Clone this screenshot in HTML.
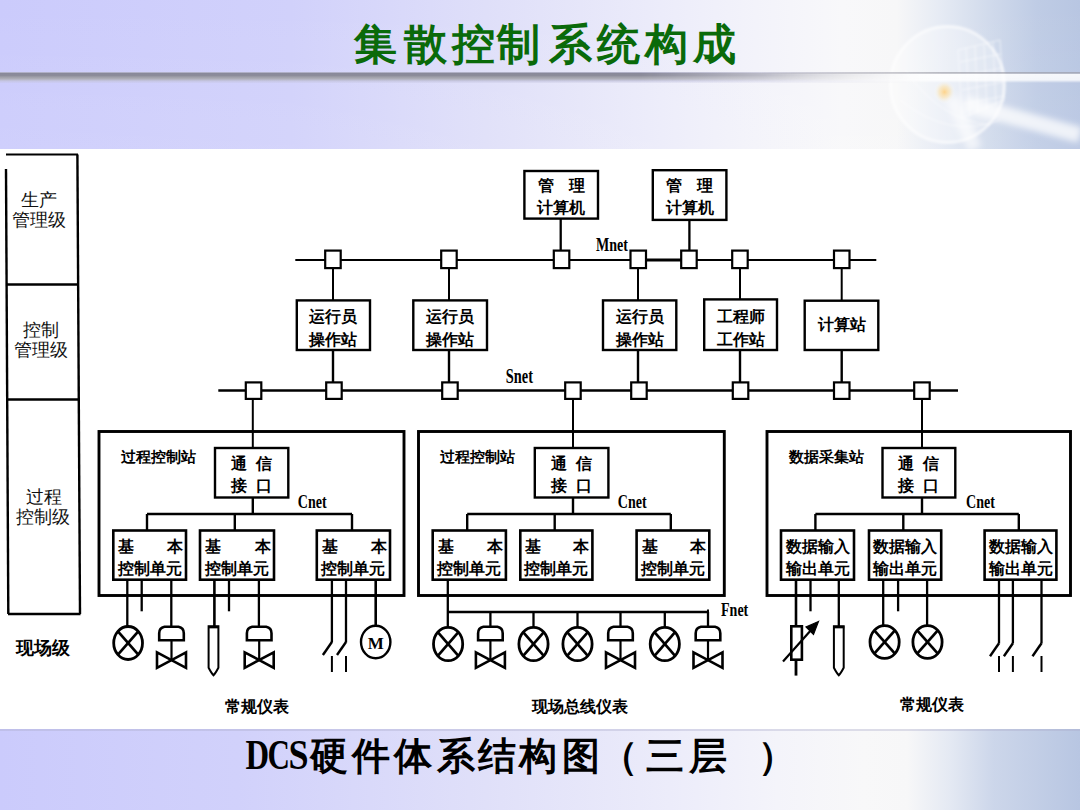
<!DOCTYPE html>
<html><head><meta charset="utf-8"><style>
html,body{margin:0;padding:0;}
body{width:1080px;height:810px;position:relative;overflow:hidden;background:#fff;font-family:"Liberation Sans",sans-serif;}
.band{position:absolute;left:0;width:1080px;}
#top{top:0;height:149px;background:linear-gradient(90deg,#cbcbfc 0%,#d1d1fb 27%,#dfdff9 45%,#ebebfa 60%,#f3f3fa 70%,#f8f8fa 78%,#f7f7f8 83%,#e6ebf4 87%,#cfd9eb 92%,#bfcce5 96%,#b8c6e2 100%);}
#topv{top:0;height:149px;background:linear-gradient(180deg,rgba(255,255,255,0) 0%,rgba(255,255,255,.08) 100%);}
#shadowL{top:72px;height:12px;background:linear-gradient(180deg,rgba(218,218,244,.9) 0px,#88889a 1px,#8c8c9a 3.5px,#9e9ea8 5px,#b0b0ba 7px,rgba(196,196,222,.8) 9px,rgba(205,205,245,0) 11.5px);-webkit-mask-image:linear-gradient(90deg,#000 0,#000 640px,rgba(0,0,0,.55) 760px,rgba(0,0,0,.25) 860px,transparent 920px);}
#shadowR{top:72px;height:11px;left:0;background:linear-gradient(180deg,rgba(150,150,160,.6) 0px,rgba(150,150,160,.6) 1.2px,rgba(255,255,255,.85) 2.5px,rgba(255,255,255,.8) 8px,rgba(255,255,255,0) 11px);-webkit-mask-image:linear-gradient(90deg,transparent 0,transparent 760px,rgba(0,0,0,.6) 860px,#000 940px);}
#bot{top:729px;height:81px;background:linear-gradient(90deg,#cbcbfc 0%,#d1d1fb 22%,#e0e0f9 45%,#ececfa 62%,#f4f4fa 72%,#f8f8f9 80%,#f7f7f8 84%,#e4e9f3 88%,#ccd6ea 92%,#b8c6e2 100%);}
#botl{top:729px;height:2px;background:rgba(170,170,200,.35);}
svg{position:absolute;left:0;top:0;} svg text{stroke:none;}
</style></head><body>
<div class="band" id="top"></div>
<div class="band" id="topv"></div>
<svg width="1080" height="149" style="position:absolute;left:0;top:0">
<defs><radialGradient id="glow"><stop offset="0" stop-color="#ffd080" stop-opacity=".9"/><stop offset=".5" stop-color="#ffe0a0" stop-opacity=".5"/><stop offset="1" stop-color="#fff" stop-opacity="0"/></radialGradient>
<filter id="bl" x="-50%" y="-50%" width="200%" height="200%"><feGaussianBlur stdDeviation="3"/></filter><filter id="bl1" x="-20%" y="-20%" width="140%" height="140%"><feGaussianBlur stdDeviation="0.8"/></filter></defs>
<ellipse cx="947.5" cy="84.5" rx="57" ry="58" fill="rgba(255,255,255,.32)" stroke="rgba(255,255,255,.6)" stroke-width="3" filter="url(#bl1)"/>
<g stroke="rgba(255,255,255,.55)" stroke-width="1" fill="none" filter="url(#bl1)">
<path d="M958,50 L1000,40 L1004,100 L962,118 Z"/><path d="M966,48 L970,116 M975,46 L978,113 M984,44 L987,110 M993,42 L996,106"/>
<path d="M960,62 L1001,54 M961,76 L1002,68 M962,90 L1003,82 M963,104 L1004,96"/>
<path d="M905,70 Q940,120 990,125 M900,100 Q950,140 1000,120"/>
</g>
<ellipse cx="944.5" cy="92" rx="11" ry="12" fill="url(#glow)"/>
<path d="M965,104 L1080,135" stroke="rgba(255,255,255,.75)" stroke-width="16" filter="url(#bl)"/>
<path d="M952,98 L975,149" stroke="rgba(255,255,255,.6)" stroke-width="14" filter="url(#bl)"/>
</svg>
<div class="band" id="shadowL"></div>
<div class="band" id="shadowR"></div>

<div class="band" id="bot"></div><div class="band" id="botl"></div>

<svg width="1080" height="810" viewBox="0 0 1080 810" stroke="#000" fill="#000">
<polyline points="6,169 8.3,614" stroke-width="2.4" fill="none"/>
<polyline points="77.4,154.5 80,614" stroke-width="2.4" fill="none"/>
<line x1="6" y1="154.5" x2="78" y2="154.5" stroke-width="2"/>
<line x1="6.5" y1="284.5" x2="78.5" y2="284.5" stroke-width="2.6"/>
<line x1="7" y1="399.5" x2="79.5" y2="399.5" stroke-width="2.6"/>
<line x1="8" y1="614" x2="80.5" y2="614" stroke-width="2.6"/>
<text x="39" y="206" font-family="Liberation Sans" font-weight="normal" font-size="17.5" text-anchor="middle" fill="#111">生产</text><text x="39" y="225.5" font-family="Liberation Sans" font-weight="normal" font-size="17.5" text-anchor="middle" fill="#111">管理级</text>
<text x="41" y="336" font-family="Liberation Sans" font-weight="normal" font-size="17.5" text-anchor="middle" fill="#111">控制</text><text x="41" y="356" font-family="Liberation Sans" font-weight="normal" font-size="17.5" text-anchor="middle" fill="#111">管理级</text>
<text x="44" y="503" font-family="Liberation Sans" font-weight="normal" font-size="17.5" text-anchor="middle" fill="#111">过程</text><text x="43" y="522.5" font-family="Liberation Sans" font-weight="normal" font-size="17.5" text-anchor="middle" fill="#111">控制级</text>
<text x="43" y="654" font-family="Liberation Sans" font-weight="bold" font-size="17.5" text-anchor="middle">现场级</text>
<rect x="524.4" y="171" width="73.6" height="47.6" stroke-width="2.4" fill="#fff"/>
<text stroke="none" x="545.7" y="190.5" font-size="16" font-weight="bold" font-family="Liberation Serif" text-anchor="middle" >管</text>
<text stroke="none" x="576.7" y="190.5" font-size="16" font-weight="bold" font-family="Liberation Serif" text-anchor="middle" >理</text>
<text stroke="none" x="561.2" y="212.5" font-size="16" font-weight="bold" font-family="Liberation Serif" text-anchor="middle" >计算机</text>
<rect x="652.8" y="170.2" width="73.6" height="49.7" stroke-width="2.4" fill="#fff"/>
<text stroke="none" x="674.0999999999999" y="190.5" font-size="16" font-weight="bold" font-family="Liberation Serif" text-anchor="middle" >管</text>
<text stroke="none" x="705.0999999999999" y="190.5" font-size="16" font-weight="bold" font-family="Liberation Serif" text-anchor="middle" >理</text>
<text stroke="none" x="689.5999999999999" y="212.5" font-size="16" font-weight="bold" font-family="Liberation Serif" text-anchor="middle" >计算机</text>
<line x1="560.7" y1="218.6" x2="560.7" y2="251" stroke-width="2.3"/>
<line x1="689.4" y1="220" x2="689.4" y2="251" stroke-width="2.3"/>
<line x1="295.3" y1="260" x2="876.3" y2="260" stroke-width="2"/>
<line x1="646" y1="260" x2="681" y2="260" stroke-width="3"/>
<rect x="325.2" y="250.6" width="15.5" height="17.5" stroke-width="2.2" fill="#fff"/>
<rect x="441.2" y="250.6" width="15.5" height="17.5" stroke-width="2.2" fill="#fff"/>
<rect x="553.8" y="250.6" width="15.5" height="17.5" stroke-width="2.2" fill="#fff"/>
<rect x="630.5" y="250.6" width="15.5" height="17.5" stroke-width="2.2" fill="#fff"/>
<rect x="681.2" y="250.6" width="15.5" height="17.5" stroke-width="2.2" fill="#fff"/>
<rect x="732.2" y="250.6" width="15.5" height="17.5" stroke-width="2.2" fill="#fff"/>
<rect x="834.0" y="250.6" width="15.5" height="17.5" stroke-width="2.2" fill="#fff"/>
<text stroke="none" x="0" y="0" font-size="19.5" font-weight="bold" font-family="Liberation Serif" transform="translate(596 250.75) scale(0.72 1)">Mnet</text>
<line x1="333" y1="268" x2="333" y2="300.5" stroke-width="2"/>
<line x1="333" y1="350" x2="333" y2="382.6" stroke-width="2.4"/>
<line x1="449" y1="268" x2="449" y2="300.5" stroke-width="2"/>
<line x1="449" y1="350" x2="449" y2="382.6" stroke-width="2.4"/>
<line x1="638" y1="268" x2="638" y2="300.5" stroke-width="2"/>
<line x1="638" y1="350" x2="638" y2="382.6" stroke-width="2.4"/>
<line x1="740" y1="268" x2="740" y2="300.5" stroke-width="2"/>
<line x1="740" y1="350" x2="740" y2="382.6" stroke-width="2.4"/>
<line x1="841.7" y1="268" x2="841.7" y2="300.5" stroke-width="2"/>
<line x1="841.7" y1="350" x2="841.7" y2="382.6" stroke-width="2.4"/>
<rect x="296.8" y="300.4" width="73.2" height="49.6" stroke-width="2.4" fill="#fff"/>
<text stroke="none" x="333.4" y="321.5" font-size="16" font-weight="bold" font-family="Liberation Serif" text-anchor="middle" >运行员</text>
<text stroke="none" x="333.4" y="344.5" font-size="16" font-weight="bold" font-family="Liberation Serif" text-anchor="middle" >操作站</text>
<rect x="413.3" y="300.4" width="73.7" height="49.6" stroke-width="2.4" fill="#fff"/>
<text stroke="none" x="450.15" y="321.5" font-size="16" font-weight="bold" font-family="Liberation Serif" text-anchor="middle" >运行员</text>
<text stroke="none" x="450.15" y="344.5" font-size="16" font-weight="bold" font-family="Liberation Serif" text-anchor="middle" >操作站</text>
<rect x="603" y="300.4" width="73.3" height="49.6" stroke-width="2.4" fill="#fff"/>
<text stroke="none" x="639.65" y="321.5" font-size="16" font-weight="bold" font-family="Liberation Serif" text-anchor="middle" >运行员</text>
<text stroke="none" x="639.65" y="344.5" font-size="16" font-weight="bold" font-family="Liberation Serif" text-anchor="middle" >操作站</text>
<rect x="704.2" y="299.4" width="72.8" height="50.6" stroke-width="2.4" fill="#fff"/>
<text stroke="none" x="740.6" y="321.5" font-size="16" font-weight="bold" font-family="Liberation Serif" text-anchor="middle" >工程师</text>
<text stroke="none" x="740.6" y="344.5" font-size="16" font-weight="bold" font-family="Liberation Serif" text-anchor="middle" >工作站</text>
<rect x="804.7" y="300.7" width="73.6" height="49.3" stroke-width="2.4" fill="#fff"/>
<text stroke="none" x="841.5" y="329.5" font-size="16" font-weight="bold" font-family="Liberation Serif" text-anchor="middle" >计算站</text>
<line x1="218.3" y1="390.5" x2="958" y2="390.5" stroke-width="2.6"/>
<rect x="245.8" y="382.4" width="15.5" height="16.5" stroke-width="2.2" fill="#fff"/>
<rect x="326.2" y="382.4" width="15.5" height="16.5" stroke-width="2.2" fill="#fff"/>
<rect x="442.2" y="382.4" width="15.5" height="16.5" stroke-width="2.2" fill="#fff"/>
<rect x="565.2" y="382.4" width="15.5" height="16.5" stroke-width="2.2" fill="#fff"/>
<rect x="631.2" y="382.4" width="15.5" height="16.5" stroke-width="2.2" fill="#fff"/>
<rect x="732.8" y="382.4" width="15.5" height="16.5" stroke-width="2.2" fill="#fff"/>
<rect x="834.0" y="382.4" width="15.5" height="16.5" stroke-width="2.2" fill="#fff"/>
<rect x="914.2" y="382.4" width="15.5" height="16.5" stroke-width="2.2" fill="#fff"/>
<text stroke="none" x="0" y="0" font-size="20" font-weight="bold" font-family="Liberation Serif" transform="translate(505.8 382.8) scale(0.72 1)">Snet</text>
<rect x="99" y="431.5" width="305.0" height="164.0" stroke-width="2.9" fill="#fff"/>
<line x1="252.8" y1="399" x2="252.8" y2="448" stroke-width="2"/>
<text stroke="none" x="120.5" y="461.5" font-size="15" font-weight="bold" font-family="Liberation Serif" text-anchor="start" >过程控制站</text>
<rect x="215" y="448" width="73.3" height="49.5" stroke-width="2.4" fill="#fff"/>
<text stroke="none" x="239.15" y="469" font-size="16" font-weight="bold" font-family="Liberation Serif" text-anchor="middle" >通</text>
<text stroke="none" x="264.15" y="469" font-size="16" font-weight="bold" font-family="Liberation Serif" text-anchor="middle" >信</text>
<text stroke="none" x="239.15" y="491" font-size="16" font-weight="bold" font-family="Liberation Serif" text-anchor="middle" >接</text>
<text stroke="none" x="264.15" y="491" font-size="16" font-weight="bold" font-family="Liberation Serif" text-anchor="middle" >口</text>
<line x1="252.8" y1="497.5" x2="252.8" y2="514" stroke-width="2.4"/>
<line x1="147" y1="514" x2="352" y2="514" stroke-width="2.6"/>
<line x1="147" y1="514" x2="147" y2="530.5" stroke-width="2.4"/>
<line x1="234.8" y1="514" x2="234.8" y2="530.5" stroke-width="2.4"/>
<line x1="352" y1="514" x2="352" y2="530.5" stroke-width="2.4"/>
<text stroke="none" x="0" y="0" font-size="19.5" font-weight="bold" font-family="Liberation Serif" transform="translate(297.8 507.6) scale(0.72 1)">Cnet</text>
<rect x="113.3" y="530.5" width="72.7" height="49.2" stroke-width="2.6" fill="#fff"/>
<text stroke="none" x="118.3" y="551.5" font-size="16" font-weight="bold" font-family="Liberation Serif" text-anchor="start" >基</text>
<text stroke="none" x="183" y="551.5" font-size="16" font-weight="bold" font-family="Liberation Serif" text-anchor="end" >本</text>
<text stroke="none" x="149.65" y="573.5" font-size="15.5" font-weight="bold" font-family="Liberation Serif" text-anchor="middle" >控制单元</text>
<rect x="200" y="530.5" width="74.0" height="49.2" stroke-width="2.6" fill="#fff"/>
<text stroke="none" x="205" y="551.5" font-size="16" font-weight="bold" font-family="Liberation Serif" text-anchor="start" >基</text>
<text stroke="none" x="271" y="551.5" font-size="16" font-weight="bold" font-family="Liberation Serif" text-anchor="end" >本</text>
<text stroke="none" x="237.0" y="573.5" font-size="15.5" font-weight="bold" font-family="Liberation Serif" text-anchor="middle" >控制单元</text>
<rect x="316.8" y="530.5" width="73.2" height="49.2" stroke-width="2.6" fill="#fff"/>
<text stroke="none" x="321.8" y="551.5" font-size="16" font-weight="bold" font-family="Liberation Serif" text-anchor="start" >基</text>
<text stroke="none" x="387" y="551.5" font-size="16" font-weight="bold" font-family="Liberation Serif" text-anchor="end" >本</text>
<text stroke="none" x="353.4" y="573.5" font-size="15.5" font-weight="bold" font-family="Liberation Serif" text-anchor="middle" >控制单元</text>
<rect x="418.5" y="431.5" width="305.8" height="164.0" stroke-width="2.9" fill="#fff"/>
<line x1="573" y1="399" x2="573" y2="448" stroke-width="2"/>
<text stroke="none" x="440.0" y="461.5" font-size="15" font-weight="bold" font-family="Liberation Serif" text-anchor="start" >过程控制站</text>
<rect x="534.8" y="448" width="73.6" height="49.5" stroke-width="2.4" fill="#fff"/>
<text stroke="none" x="559.0999999999999" y="469" font-size="16" font-weight="bold" font-family="Liberation Serif" text-anchor="middle" >通</text>
<text stroke="none" x="584.0999999999999" y="469" font-size="16" font-weight="bold" font-family="Liberation Serif" text-anchor="middle" >信</text>
<text stroke="none" x="559.0999999999999" y="491" font-size="16" font-weight="bold" font-family="Liberation Serif" text-anchor="middle" >接</text>
<text stroke="none" x="584.0999999999999" y="491" font-size="16" font-weight="bold" font-family="Liberation Serif" text-anchor="middle" >口</text>
<line x1="573" y1="497.5" x2="573" y2="514" stroke-width="2.4"/>
<line x1="467.2" y1="514" x2="670.8" y2="514" stroke-width="2.6"/>
<line x1="467.2" y1="514" x2="467.2" y2="530.5" stroke-width="2.4"/>
<line x1="554.7" y1="514" x2="554.7" y2="530.5" stroke-width="2.4"/>
<line x1="670.8" y1="514" x2="670.8" y2="530.5" stroke-width="2.4"/>
<text stroke="none" x="0" y="0" font-size="19.5" font-weight="bold" font-family="Liberation Serif" transform="translate(617.8 507.6) scale(0.72 1)">Cnet</text>
<rect x="432.7" y="530.5" width="73.2" height="49.2" stroke-width="2.6" fill="#fff"/>
<text stroke="none" x="437.7" y="551.5" font-size="16" font-weight="bold" font-family="Liberation Serif" text-anchor="start" >基</text>
<text stroke="none" x="502.9" y="551.5" font-size="16" font-weight="bold" font-family="Liberation Serif" text-anchor="end" >本</text>
<text stroke="none" x="469.29999999999995" y="573.5" font-size="15.5" font-weight="bold" font-family="Liberation Serif" text-anchor="middle" >控制单元</text>
<rect x="520.3" y="530.5" width="72.1" height="49.2" stroke-width="2.6" fill="#fff"/>
<text stroke="none" x="525.3" y="551.5" font-size="16" font-weight="bold" font-family="Liberation Serif" text-anchor="start" >基</text>
<text stroke="none" x="589.4" y="551.5" font-size="16" font-weight="bold" font-family="Liberation Serif" text-anchor="end" >本</text>
<text stroke="none" x="556.3499999999999" y="573.5" font-size="15.5" font-weight="bold" font-family="Liberation Serif" text-anchor="middle" >控制单元</text>
<rect x="636.6" y="530.5" width="72.7" height="49.2" stroke-width="2.6" fill="#fff"/>
<text stroke="none" x="641.6" y="551.5" font-size="16" font-weight="bold" font-family="Liberation Serif" text-anchor="start" >基</text>
<text stroke="none" x="706.3" y="551.5" font-size="16" font-weight="bold" font-family="Liberation Serif" text-anchor="end" >本</text>
<text stroke="none" x="672.95" y="573.5" font-size="15.5" font-weight="bold" font-family="Liberation Serif" text-anchor="middle" >控制单元</text>
<rect x="767" y="431.5" width="303.5" height="164.0" stroke-width="2.9" fill="#fff"/>
<line x1="922" y1="399" x2="922" y2="448" stroke-width="2"/>
<text stroke="none" x="788.5" y="461.5" font-size="15" font-weight="bold" font-family="Liberation Serif" text-anchor="start" >数据采集站</text>
<rect x="882.5" y="448" width="72.8" height="49.5" stroke-width="2.4" fill="#fff"/>
<text stroke="none" x="906.4" y="469" font-size="16" font-weight="bold" font-family="Liberation Serif" text-anchor="middle" >通</text>
<text stroke="none" x="931.4" y="469" font-size="16" font-weight="bold" font-family="Liberation Serif" text-anchor="middle" >信</text>
<text stroke="none" x="906.4" y="491" font-size="16" font-weight="bold" font-family="Liberation Serif" text-anchor="middle" >接</text>
<text stroke="none" x="931.4" y="491" font-size="16" font-weight="bold" font-family="Liberation Serif" text-anchor="middle" >口</text>
<line x1="922" y1="497.5" x2="922" y2="514" stroke-width="2.4"/>
<line x1="815.4" y1="514" x2="1018.8" y2="514" stroke-width="2.6"/>
<line x1="815.4" y1="514" x2="815.4" y2="530.5" stroke-width="2.4"/>
<line x1="903.3" y1="514" x2="903.3" y2="530.5" stroke-width="2.4"/>
<line x1="1018.8" y1="514" x2="1018.8" y2="530.5" stroke-width="2.4"/>
<text stroke="none" x="0" y="0" font-size="19.5" font-weight="bold" font-family="Liberation Serif" transform="translate(966 507.6) scale(0.72 1)">Cnet</text>
<rect x="781" y="530.5" width="73.0" height="49.2" stroke-width="2.6" fill="#fff"/>
<text stroke="none" x="817.5" y="551.5" font-size="15.5" font-weight="bold" font-family="Liberation Serif" text-anchor="middle" >数据输入</text>
<text stroke="none" x="817.5" y="573.5" font-size="15.5" font-weight="bold" font-family="Liberation Serif" text-anchor="middle" >输出单元</text>
<rect x="869" y="530.5" width="72.2" height="49.2" stroke-width="2.6" fill="#fff"/>
<text stroke="none" x="905.1" y="551.5" font-size="15.5" font-weight="bold" font-family="Liberation Serif" text-anchor="middle" >数据输入</text>
<text stroke="none" x="905.1" y="573.5" font-size="15.5" font-weight="bold" font-family="Liberation Serif" text-anchor="middle" >输出单元</text>
<rect x="984.6" y="530.5" width="71.8" height="49.2" stroke-width="2.6" fill="#fff"/>
<text stroke="none" x="1020.5" y="551.5" font-size="15.5" font-weight="bold" font-family="Liberation Serif" text-anchor="middle" >数据输入</text>
<text stroke="none" x="1020.5" y="573.5" font-size="15.5" font-weight="bold" font-family="Liberation Serif" text-anchor="middle" >输出单元</text>
<line x1="127.3" y1="579.7" x2="127.3" y2="627" stroke-width="2.3"/>
<ellipse cx="128.1" cy="643" rx="14.4" ry="16.5" stroke-width="2.8" fill="#fff"/>
<line x1="117.91919999999999" y1="631.3345" x2="138.2808" y2="654.6655" stroke-width="2.7"/>
<line x1="117.91919999999999" y1="654.6655" x2="138.2808" y2="631.3345" stroke-width="2.7"/>
<line x1="141.7" y1="579.7" x2="141.7" y2="611.3" stroke-width="2.3"/>
<line x1="171.3" y1="579.7" x2="171.3" y2="627" stroke-width="2.3"/>
<path d="M159.2,640.3 L159.2,633.3 Q159.2,627.8 164.5,626.8 L178.5,626.8 Q183.8,627.8 183.8,633.3 L183.8,640.3 Z" stroke-width="2.6" fill="#fff"/>
<line x1="171.5" y1="640.3" x2="171.5" y2="660.3" stroke-width="2.2"/>
<path d="M157.0,652.3 L186.0,667.8 L186.0,652.3 L157.0,667.8 Z" stroke-width="2.6" fill="none" stroke-linejoin="miter"/>
<line x1="214.4" y1="579.7" x2="214.4" y2="627" stroke-width="2.6"/>
<path d="M208.6,626.3 L218.4,626.3 L218.4,667.8 Q215.5,673.3 213.5,675.3 Q211.5,673.3 208.6,667.8 Z" stroke-width="2" fill="#fff"/>
<line x1="208.0" y1="627.0999999999999" x2="219.0" y2="627.0999999999999" stroke-width="2.5"/>
<line x1="229" y1="579.7" x2="229" y2="611.3" stroke-width="2.3"/>
<line x1="258.9" y1="579.7" x2="258.9" y2="627" stroke-width="2.3"/>
<path d="M246.89999999999998,640.3 L246.89999999999998,633.3 Q246.89999999999998,627.8 252.2,626.8 L266.2,626.8 Q271.5,627.8 271.5,633.3 L271.5,640.3 Z" stroke-width="2.6" fill="#fff"/>
<line x1="259.2" y1="640.3" x2="259.2" y2="660.3" stroke-width="2.2"/>
<path d="M244.7,652.3 L273.7,667.8 L273.7,652.3 L244.7,667.8 Z" stroke-width="2.6" fill="none" stroke-linejoin="miter"/>
<line x1="331.9" y1="579.7" x2="331.9" y2="642.5" stroke-width="2.3"/>
<line x1="331.9" y1="642" x2="322.9" y2="655" stroke-width="2.4"/>
<line x1="331.9" y1="656" x2="331.9" y2="672" stroke-width="2"/>
<line x1="346" y1="579.7" x2="346" y2="642.5" stroke-width="2.3"/>
<line x1="346" y1="642" x2="337" y2="655" stroke-width="2.4"/>
<line x1="346" y1="656" x2="346" y2="672" stroke-width="2"/>
<line x1="375.7" y1="579.7" x2="375.7" y2="626" stroke-width="2.6"/>
<ellipse cx="375.7" cy="642" rx="14.7" ry="16.3" stroke-width="2.4" fill="#fff"/>
<text stroke="none" x="375.7" y="648.5" font-size="17" font-weight="bold" font-family="Liberation Serif" text-anchor="middle" >M</text>
<line x1="447.8" y1="579.7" x2="447.8" y2="627" stroke-width="2.3"/>
<line x1="447.8" y1="612" x2="708" y2="612" stroke-width="2.4"/>
<line x1="708" y1="609.5" x2="708" y2="612" stroke-width="2"/>
<line x1="490.4" y1="612" x2="490.4" y2="627" stroke-width="2.3"/>
<line x1="533.5" y1="612" x2="533.5" y2="627" stroke-width="2.3"/>
<line x1="577.5" y1="612" x2="577.5" y2="627" stroke-width="2.3"/>
<line x1="620.5" y1="612" x2="620.5" y2="627" stroke-width="2.3"/>
<line x1="664.8" y1="612" x2="664.8" y2="627" stroke-width="2.3"/>
<line x1="708" y1="612" x2="708" y2="627" stroke-width="2.3"/>
<ellipse cx="448.1" cy="644" rx="14.6" ry="16.7" stroke-width="2.8" fill="#fff"/>
<line x1="437.7778" y1="632.1931" x2="458.42220000000003" y2="655.8069" stroke-width="2.7"/>
<line x1="437.7778" y1="655.8069" x2="458.42220000000003" y2="632.1931" stroke-width="2.7"/>
<ellipse cx="533.5" cy="644" rx="14.6" ry="16.7" stroke-width="2.8" fill="#fff"/>
<line x1="523.1778" y1="632.1931" x2="543.8222" y2="655.8069" stroke-width="2.7"/>
<line x1="523.1778" y1="655.8069" x2="543.8222" y2="632.1931" stroke-width="2.7"/>
<ellipse cx="577.5" cy="644" rx="14.6" ry="16.7" stroke-width="2.8" fill="#fff"/>
<line x1="567.1778" y1="632.1931" x2="587.8222" y2="655.8069" stroke-width="2.7"/>
<line x1="567.1778" y1="655.8069" x2="587.8222" y2="632.1931" stroke-width="2.7"/>
<ellipse cx="664.8" cy="644" rx="14.6" ry="16.7" stroke-width="2.8" fill="#fff"/>
<line x1="654.4778" y1="632.1931" x2="675.1221999999999" y2="655.8069" stroke-width="2.7"/>
<line x1="654.4778" y1="655.8069" x2="675.1221999999999" y2="632.1931" stroke-width="2.7"/>
<path d="M478.09999999999997,640.3 L478.09999999999997,633.3 Q478.09999999999997,627.8 483.4,626.8 L497.4,626.8 Q502.7,627.8 502.7,633.3 L502.7,640.3 Z" stroke-width="2.6" fill="#fff"/>
<line x1="490.4" y1="640.3" x2="490.4" y2="660.3" stroke-width="2.2"/>
<path d="M475.9,652.3 L504.9,667.8 L504.9,652.3 L475.9,667.8 Z" stroke-width="2.6" fill="none" stroke-linejoin="miter"/>
<path d="M608.2,640.3 L608.2,633.3 Q608.2,627.8 613.5,626.8 L627.5,626.8 Q632.8,627.8 632.8,633.3 L632.8,640.3 Z" stroke-width="2.6" fill="#fff"/>
<line x1="620.5" y1="640.3" x2="620.5" y2="660.3" stroke-width="2.2"/>
<path d="M606.0,652.3 L635.0,667.8 L635.0,652.3 L606.0,667.8 Z" stroke-width="2.6" fill="none" stroke-linejoin="miter"/>
<path d="M695.7,640.3 L695.7,633.3 Q695.7,627.8 701,626.8 L715,626.8 Q720.3,627.8 720.3,633.3 L720.3,640.3 Z" stroke-width="2.6" fill="#fff"/>
<line x1="708" y1="640.3" x2="708" y2="660.3" stroke-width="2.2"/>
<path d="M693.5,652.3 L722.5,667.8 L722.5,652.3 L693.5,667.8 Z" stroke-width="2.6" fill="none" stroke-linejoin="miter"/>
<text stroke="none" x="0" y="0" font-size="19.5" font-weight="bold" font-family="Liberation Serif" transform="translate(721 616) scale(0.72 1)">Fnet</text>
<line x1="796" y1="579.7" x2="796" y2="627" stroke-width="2.6"/>
<rect x="791.3" y="626.3" width="10.6" height="33.4" stroke-width="2.6" fill="#fff"/>
<line x1="796" y1="659.7" x2="796" y2="675.6" stroke-width="2.8"/>
<line x1="783" y1="661.5" x2="812" y2="629" stroke-width="2.2"/>
<path d="M818.5,621.5 L806,627 L813.5,634.5 Z" stroke-width="1.2" fill="#000"/>
<line x1="810.5" y1="579.7" x2="810.5" y2="611.3" stroke-width="2.3"/>
<line x1="838.8" y1="579.7" x2="838.8" y2="627" stroke-width="2.3"/>
<path d="M833.9,626.3 L843.6999999999999,626.3 L843.6999999999999,667.8 Q840.8,673.3 838.8,675.3 Q836.8,673.3 833.9,667.8 Z" stroke-width="2" fill="#fff"/>
<line x1="833.3" y1="627.0999999999999" x2="844.3" y2="627.0999999999999" stroke-width="2.5"/>
<line x1="883.2" y1="579.7" x2="883.2" y2="626" stroke-width="2.3"/>
<ellipse cx="884.6" cy="642" rx="14.6" ry="16.4" stroke-width="2.8" fill="#fff"/>
<line x1="874.2778000000001" y1="630.4052" x2="894.9222" y2="653.5948" stroke-width="2.7"/>
<line x1="874.2778000000001" y1="653.5948" x2="894.9222" y2="630.4052" stroke-width="2.7"/>
<line x1="898.1" y1="579.7" x2="898.1" y2="611.3" stroke-width="2.3"/>
<line x1="927.1" y1="579.7" x2="927.1" y2="626" stroke-width="2.3"/>
<ellipse cx="927.5" cy="642" rx="14.6" ry="16.4" stroke-width="2.8" fill="#fff"/>
<line x1="917.1778" y1="630.4052" x2="937.8222" y2="653.5948" stroke-width="2.7"/>
<line x1="917.1778" y1="653.5948" x2="937.8222" y2="630.4052" stroke-width="2.7"/>
<line x1="999" y1="579.7" x2="999" y2="643.5" stroke-width="2.3"/>
<line x1="999" y1="643.3" x2="990" y2="656.3" stroke-width="2.4"/>
<line x1="999" y1="656" x2="999" y2="672" stroke-width="2"/>
<line x1="1012.9" y1="579.7" x2="1012.9" y2="643.5" stroke-width="2.3"/>
<line x1="1012.9" y1="643.3" x2="1003.9" y2="656.3" stroke-width="2.4"/>
<line x1="1012.9" y1="656" x2="1012.9" y2="672" stroke-width="2"/>
<line x1="1041.5" y1="579.7" x2="1041.5" y2="643.5" stroke-width="2.3"/>
<line x1="1041.5" y1="643.3" x2="1032.5" y2="656.3" stroke-width="2.4"/>
<line x1="1041.5" y1="656" x2="1041.5" y2="672" stroke-width="2"/>
<text x="224.6" y="712" font-family="Liberation Serif" font-weight="bold" font-size="16.4">常规仪表</text>
<text x="532" y="712" font-family="Liberation Serif" font-weight="bold" font-size="16.4">现场总线仪表</text>
<text x="900" y="710" font-family="Liberation Serif" font-weight="bold" font-size="16.4">常规仪表</text>
<text x="375.5" y="59" font-size="43" font-weight="900" font-family="Liberation Sans" text-anchor="middle" fill="#0a6a0a">集</text>
<text x="425" y="59" font-size="43" font-weight="900" font-family="Liberation Sans" text-anchor="middle" fill="#0a6a0a">散</text>
<text x="473" y="59" font-size="43" font-weight="900" font-family="Liberation Sans" text-anchor="middle" fill="#0a6a0a">控</text>
<text x="518.5" y="59" font-size="43" font-weight="900" font-family="Liberation Sans" text-anchor="middle" fill="#0a6a0a">制</text>
<text x="570.5" y="59" font-size="43" font-weight="900" font-family="Liberation Sans" text-anchor="middle" fill="#0a6a0a">系</text>
<text x="618" y="59" font-size="43" font-weight="900" font-family="Liberation Sans" text-anchor="middle" fill="#0a6a0a">统</text>
<text x="666" y="59" font-size="43" font-weight="900" font-family="Liberation Sans" text-anchor="middle" fill="#0a6a0a">构</text>
<text x="714.5" y="59" font-size="43" font-weight="900" font-family="Liberation Sans" text-anchor="middle" fill="#0a6a0a">成</text>
<text x="0" y="768.6" font-size="42" font-weight="bold" font-family="Liberation Serif" transform="translate(245.5 0) scale(0.78 1)">D</text>
<text x="0" y="768.6" font-size="42" font-weight="bold" font-family="Liberation Serif" transform="translate(267.5 0) scale(0.74 1)">C</text>
<text x="0" y="768.6" font-size="42" font-weight="bold" font-family="Liberation Serif" transform="translate(288.5 0) scale(0.86 1)">S</text>
<text x="328.6" y="769" font-size="38" font-weight="bold" font-family="Liberation Serif" text-anchor="middle">硬</text>
<text x="370.9" y="769" font-size="38" font-weight="bold" font-family="Liberation Serif" text-anchor="middle">件</text>
<text x="412.7" y="769" font-size="38" font-weight="bold" font-family="Liberation Serif" text-anchor="middle">体</text>
<text x="456.4" y="769" font-size="38" font-weight="bold" font-family="Liberation Serif" text-anchor="middle">系</text>
<text x="497.3" y="769" font-size="38" font-weight="bold" font-family="Liberation Serif" text-anchor="middle">结</text>
<text x="537.5" y="769" font-size="38" font-weight="bold" font-family="Liberation Serif" text-anchor="middle">构</text>
<text x="580.5" y="769" font-size="38" font-weight="bold" font-family="Liberation Serif" text-anchor="middle">图</text>
<text x="619" y="769" font-size="38" font-weight="bold" font-family="Liberation Serif" text-anchor="middle">（</text>
<text x="665.3" y="769" font-size="38" font-weight="bold" font-family="Liberation Serif" text-anchor="middle">三</text>
<text x="708.4" y="769" font-size="38" font-weight="bold" font-family="Liberation Serif" text-anchor="middle">层</text>
<text x="777" y="769" font-size="38" font-weight="bold" font-family="Liberation Serif" text-anchor="middle">）</text>
</svg>
</body></html>
